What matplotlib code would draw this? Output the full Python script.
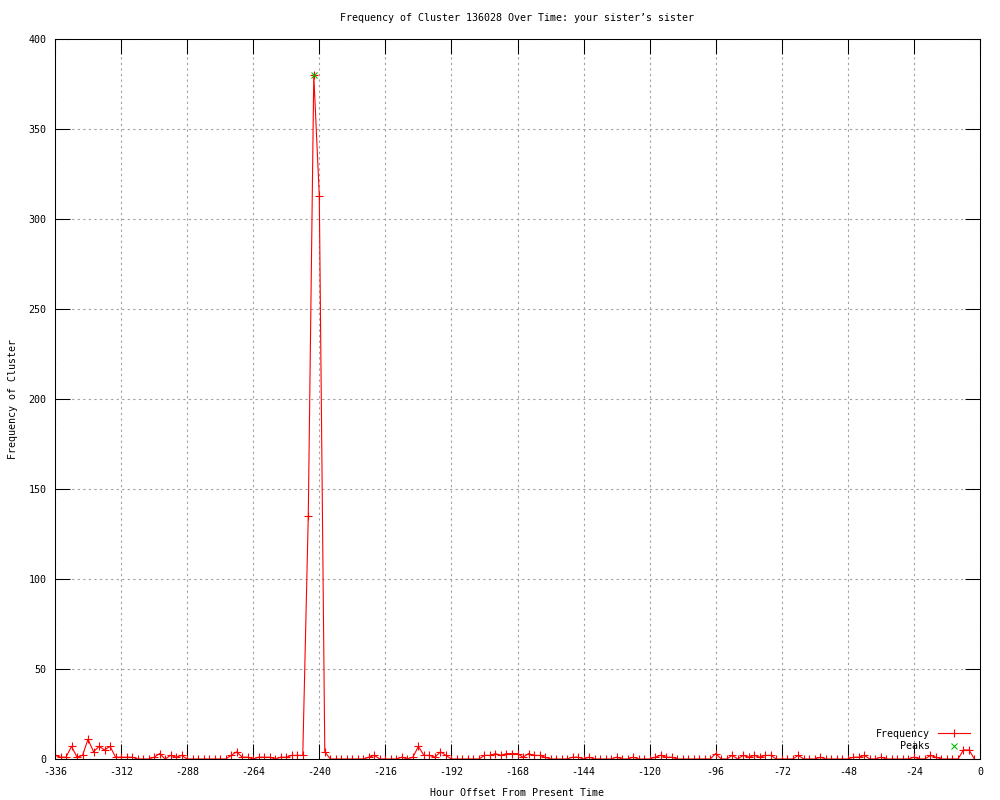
import numpy as np
import matplotlib
matplotlib.use("Agg")
import matplotlib.pyplot as plt

# frequency every 2 hours, from -336 to -2
hours = np.arange(-336, 0, 2)
freq = [
    2, 1, 1, 7, 1, 2, 11, 4, 7, 5, 7, 1,
    1, 1, 1, 0, 0, 0, 1, 3, 0, 2, 1, 2,
    0, 0, 0, 0, 0, 0, 0, 0, 2, 4, 1, 1,
    0, 1, 1, 1, 0, 1, 1, 2, 2, 2, 135, 380,
    313, 4, 0, 0, 0, 0, 0, 0, 0, 1, 2, 0,
    0, 0, 0, 1, 0, 1, 7, 2, 2, 1, 4, 2,
    0, 0, 0, 0, 0, 0, 2, 2, 3, 2, 3, 3,
    3, 1, 3, 2, 2, 1, 0, 0, 0, 0, 1, 1,
    0, 1, 0, 0, 0, 0, 1, 0, 0, 1, 0, 0,
    0, 1, 2, 1, 1, 0, 0, 0, 0, 0, 0, 0,
    3, 0, 0, 2, 0, 2, 1, 2, 1, 2, 2, 0,
    0, 0, 0, 2, 0, 0, 0, 1, 0, 0, 0, 0,
    0, 1, 1, 2, 0, 0, 1, 0, 0, 0, 0, 0,
    1, 0, 0, 2, 1, 0, 0, 0, 0, 5, 5, 0,
]
peak_hours = [-242]
peak_vals = [380]

x_ticks = list(range(-336, 1, 24))
y_ticks = list(range(0, 401, 50))

plt.rcParams['font.family'] = ['DejaVu Sans Mono']
plt.rcParams['font.size'] = 7.2
plt.rcParams['axes.unicode_minus'] = False

fig = plt.figure(figsize=(10, 8), dpi=100)
ax = fig.add_axes([0.055, 0.05125, 0.925, 0.9])

ax.plot(hours, freq, color='#ff0000', lw=0.8, marker='+', markersize=5.5,
        markeredgewidth=0.8, label='Frequency')
ax.plot(peak_hours, peak_vals, ls='none', marker='x', color='#00c000',
        markersize=4.5, markeredgewidth=0.8, label='Peaks')

ax.set_xlim(-336, 0)
ax.set_ylim(0, 400)
ax.set_xticks(x_ticks)
ax.set_yticks(y_ticks)
ax.tick_params(direction='in', length=11, width=0.75, top=True, right=True,
               labelsize=7.2, pad=6)
ax.grid(True, color='#a0a0a0', ls=(0, (2, 3)), lw=0.8)
ax.set_axisbelow(True)
for s in ax.spines.values():
    s.set_linewidth(0.75)

ax.set_title("Frequency of Cluster 136028 Over Time: your sister\u2019s sister",
             fontsize=7.2, pad=13)
ax.set_xlabel('Hour Offset From Present Time', fontsize=7.2, labelpad=8)
ax.set_ylabel('Frequency of Cluster', fontsize=7.2, labelpad=8)

ax.legend(loc='lower right', markerfirst=False, frameon=False, fontsize=7.2,
          handlelength=3.2, labelspacing=0.25, borderaxespad=0,
          bbox_to_anchor=(0.993, 0.005))

fig.savefig('out.png', dpi=100)
